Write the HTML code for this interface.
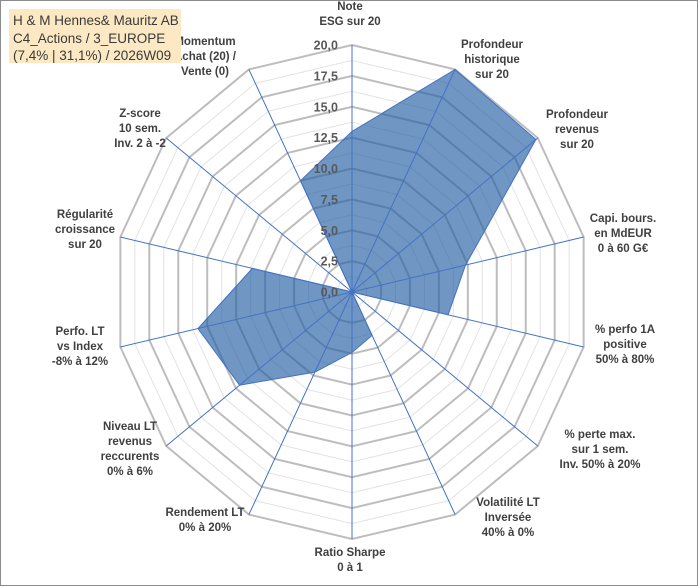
<!DOCTYPE html>
<html><head><meta charset="utf-8">
<style>
html,body{margin:0;padding:0;background:#fff;}
#wrap{position:relative;width:700px;height:587px;overflow:hidden;}
svg{position:absolute;left:0;top:0;}
.lbl{font-family:"Liberation Sans",Arial,sans-serif;font-weight:bold;font-size:11.5px;fill:#404040;}
.tick{font-family:"Liberation Sans",Arial,sans-serif;font-weight:bold;font-size:12.5px;fill:#595959;}
#title{position:absolute;left:9px;top:9px;width:172px;height:54px;background:#fce9c4;font-family:"Liberation Sans",Arial,sans-serif;font-size:13.5px;line-height:17.5px;color:#3a3a3a;padding:3px 0 0 4px;box-sizing:border-box;white-space:nowrap;overflow:hidden;}
</style></head>
<body>
<div id="wrap">
<svg id="chart" width="700" height="587"></svg>
<div id="title">H &amp; M Hennes&amp; Mauritz AB<br>C4_Actions / 3_EUROPE<br>(7,4% | 31,1%) / 2026W09</div>
</div>
<script>
const categories = [
 ["Note","ESG sur 20"],
 ["Profondeur","historique","sur 20"],
 ["Profondeur","revenus","sur 20"],
 ["Capi. bours.","en MdEUR","0 à 60 G€"],
 ["% perfo 1A","positive","50% à 80%"],
 ["% perte max.","sur 1 sem.","Inv. 50% à 20%"],
 ["Volatilité LT","Inversée","40% à 0%"],
 ["Ratio Sharpe","0 à 1"],
 ["Rendement LT","0% à 20%"],
 ["Niveau LT","revenus","reccurents","0% à 6%"],
 ["Perfo. LT","vs Index","-8% à 12%"],
 ["Régularité","croissance","sur 20"],
 ["Z-score","10 sem.","Inv. 2 à -2"],
 ["Momentum","Achat (20) /","Vente (0)"]
];
const values = [13, 20, 19.8, 9.8, 8.3, 0, 3.9, 4.9, 7.2, 12.1, 13.3, 8.6, 0, 10.0];
const tickLabels = ["0,0","2,5","5,0","7,5","10,0","12,5","15,0","17,5","20,0"];
const tickValues = [0,2.5,5,7.5,10,12.5,15,17.5,20];
const maxVal = 20;

const NS="http://www.w3.org/2000/svg";
const svg=document.getElementById('chart');
const cx=352, cy=292, R=247, SX=0.962, N=categories.length;
function ang(i){return i*2*Math.PI/N;}
function pt(i,v){const r=v/maxVal*R;return [cx+SX*r*Math.sin(ang(i)), cy-r*Math.cos(ang(i))];}
function mk(tag,attrs){const e=document.createElementNS(NS,tag);for(const k in attrs)e.setAttribute(k,attrs[k]);svg.appendChild(e);return e;}

const fr=mk('rect',{x:0.5,y:0.5,width:697,height:585,fill:'#fff',stroke:'#8c8c8c','stroke-width':1});



for(let v=1.25; v<=maxVal; v+=2.5){
  const p=mk('polygon',{points:categories.map((c,i)=>pt(i,v).join(',')).join(' '),fill:'none',stroke:'#e3e3e3','stroke-width':1});
  
  
}
tickValues.forEach(v=>{ if(v===0) return;
  const p=mk('polygon',{points:categories.map((c,i)=>pt(i,v).join(',')).join(' '),fill:'none',stroke:'#bdbdbd','stroke-width':2});
  
  
});
const poly=mk('polygon',{points:values.map((v,i)=>pt(i,v).join(',')).join(' '),fill:'rgb(35,94,163)','fill-opacity':0.65,stroke:'#4472c4','stroke-width':1});


categories.forEach((c,i)=>{
  const [x,y]=pt(i,maxVal);
  const l=mk('line',{x1:cx,y1:cy,x2:x,y2:y,stroke:'#4472c4','stroke-width':1});
  
  
});
tickLabels.forEach((t,k)=>{
  const y=cy-tickValues[k]/maxVal*R;
  const e=mk('text',{x:cx-14,y:y+4.5,'text-anchor':'end',class:'tick'});
  e.textContent=t;
  
  
});
const labelPos=[[350,10],[492,48],[577,118],[623,222],[625,333],[600,438],[508,506],[350,556],[205,516],[130,430],[80,335],[85,218],[140,117],[205,45]];
categories.forEach((lines,i)=>{
  const [x,y]=labelPos[i];
  const t=mk('text',{x:x,y:y,'text-anchor':'middle',class:'lbl'});
  
  
  lines.forEach((s,j)=>{
    const ts=document.createElementNS(NS,'tspan');
    ts.setAttribute('x',x);ts.setAttribute('dy',j===0?0:15);
    ts.textContent=s;t.appendChild(ts);
  });
});
</script>
</body></html>
